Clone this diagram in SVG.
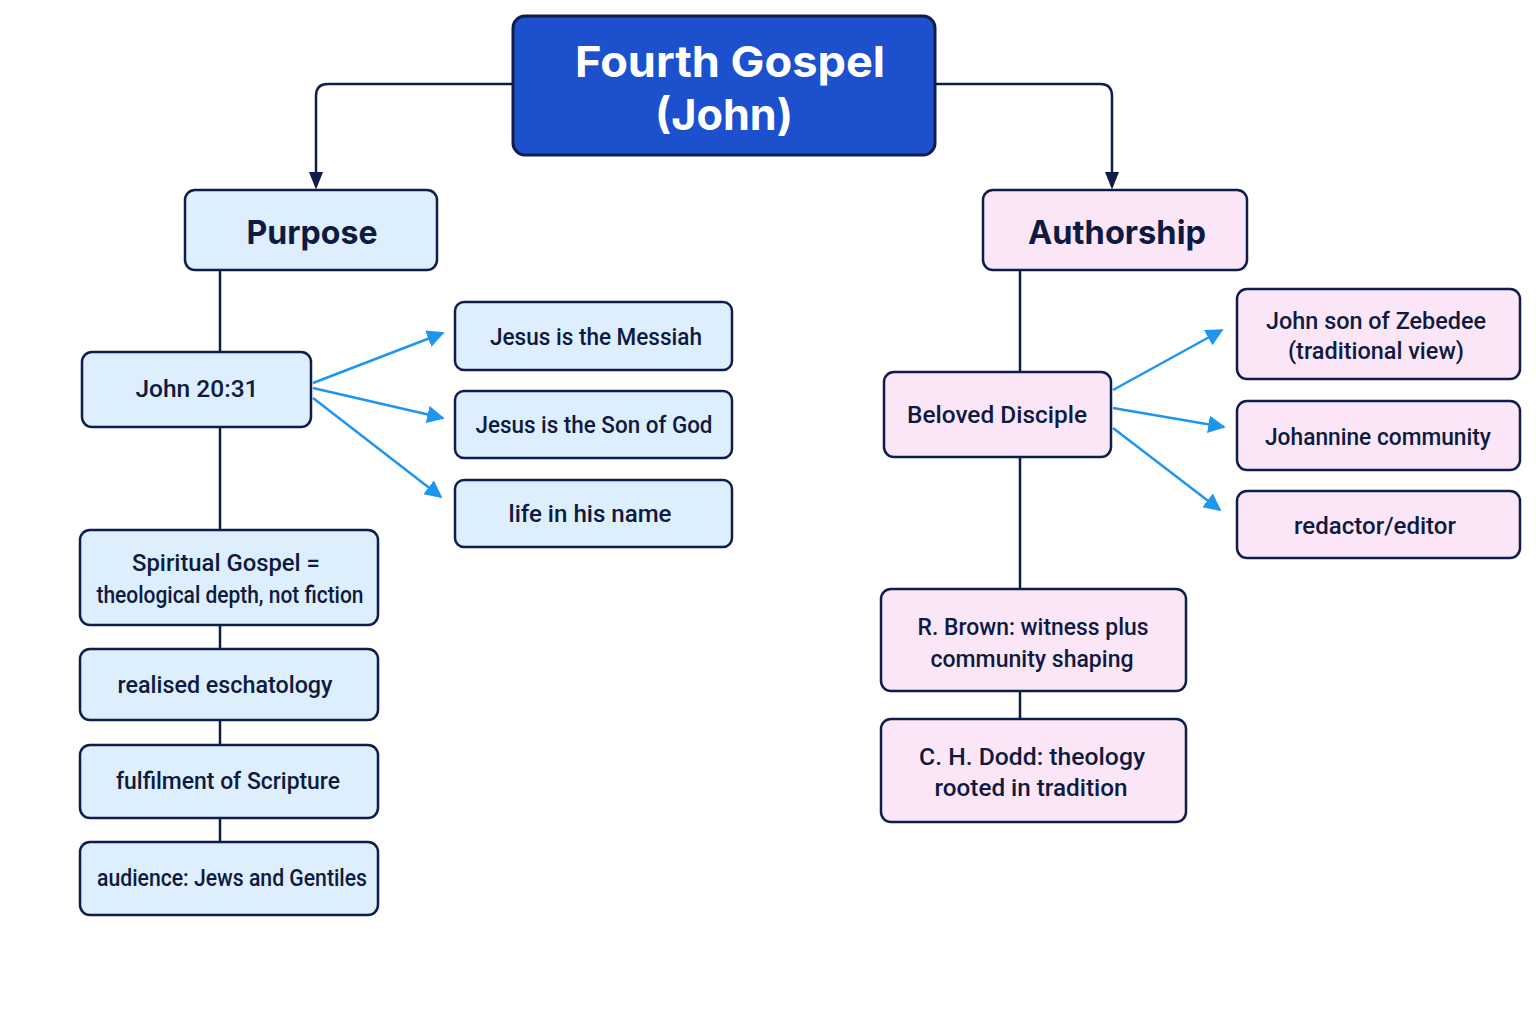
<svg xmlns="http://www.w3.org/2000/svg" width="1536" height="1024" viewBox="0 0 1536 1024">
<defs>
<style>
.box{stroke:#0f1d4a;stroke-width:2.5}
.blue{fill:#ddeefc}
.pink{fill:#fbe6f8}
.root{fill:#1d50cc;stroke:#0f1d4a;stroke-width:3}
.t{font-family:Roboto,"Noto Sans",sans-serif;font-size:24px;font-weight:500;fill:#0f1a40;text-anchor:middle}
.h{font-family:Inter,"Noto Sans",sans-serif;font-size:33px;font-weight:700;fill:#0f1a40;text-anchor:middle}
.rt{font-family:Inter,"Noto Sans",sans-serif;font-size:43px;font-weight:700;fill:#ffffff;text-anchor:middle}
.trunk{stroke:#0f1d4a;stroke-width:2.5;fill:none}
.arr{stroke:#1e96f0;stroke-width:2.5;fill:none}
</style>
<marker id="ad" viewBox="0 0 10 10" refX="8" refY="5" markerWidth="18" markerHeight="18" markerUnits="userSpaceOnUse" orient="auto"><path d="M0,1 L10,5 L0,9 z" fill="#0f1d4a"/></marker>
<marker id="ab" viewBox="0 0 10 10" refX="9" refY="5" markerWidth="7" markerHeight="7" orient="auto"><path d="M0,0 L10,5 L0,10 z" fill="#1e96f0"/></marker>
</defs>
<rect width="1536" height="1024" fill="#ffffff"/>
<g id="connectors">
<path class="trunk" d="M513,84 H328 Q316,84 316,96 V186" marker-end="url(#ad)"/>
<path class="trunk" d="M935,84 H1100 Q1112,84 1112,96 V186" marker-end="url(#ad)"/>
<path class="trunk" d="M220,270 V352 M220,427 V530 M220,625 V649 M220,720 V745 M220,818 V842"/>
<path class="trunk" d="M1020,270 V372 M1020,457 V589 M1020,691 V719"/>
<path class="arr" d="M313,383 L443,333" marker-end="url(#ab)"/>
<path class="arr" d="M313,388 L443,418" marker-end="url(#ab)"/>
<path class="arr" d="M313,398 L441,497" marker-end="url(#ab)"/>
<path class="arr" d="M1113,390 L1222,330" marker-end="url(#ab)"/>
<path class="arr" d="M1113,408 L1224,427" marker-end="url(#ab)"/>
<path class="arr" d="M1113,428 L1220,510" marker-end="url(#ab)"/>
</g>
<g id="root"><rect class="root" x="513" y="16" width="422" height="139" rx="12"/>
<text class="rt" x="730" y="77" textLength="310" lengthAdjust="spacingAndGlyphs">Fourth Gospel</text>
<text class="rt" x="724" y="130" textLength="138" lengthAdjust="spacingAndGlyphs">(John)</text></g>
<g id="purpose"><rect class="box blue" x="185" y="190" width="252" height="80" rx="10"/>
<text class="h" x="312" y="244" textLength="131" lengthAdjust="spacingAndGlyphs">Purpose</text></g>
<g id="authorship"><rect class="box pink" x="983" y="190" width="264" height="80" rx="10"/>
<text class="h" x="1117" y="244" textLength="178" lengthAdjust="spacingAndGlyphs">Authorship</text></g>
<g id="john2031"><rect class="box blue" x="82" y="352" width="229" height="75" rx="10"/>
<text class="t" x="197" y="397" textLength="123" lengthAdjust="spacingAndGlyphs">John 20:31</text></g>
<g id="messiah"><rect class="box blue" x="455" y="302" width="277" height="68" rx="9"/>
<text class="t" x="596" y="345" textLength="212" lengthAdjust="spacingAndGlyphs">Jesus is the Messiah</text></g>
<g id="songod"><rect class="box blue" x="455" y="391" width="277" height="67" rx="9"/>
<text class="t" x="594" y="433" textLength="237" lengthAdjust="spacingAndGlyphs">Jesus is the Son of God</text></g>
<g id="life"><rect class="box blue" x="455" y="480" width="277" height="67" rx="9"/>
<text class="t" x="590" y="522" textLength="163" lengthAdjust="spacingAndGlyphs">life in his name</text></g>
<g id="spiritual"><rect class="box blue" x="80" y="530" width="298" height="95" rx="10"/>
<text class="t" x="226" y="571" textLength="188" lengthAdjust="spacingAndGlyphs">Spiritual Gospel =</text>
<text class="t" x="230" y="603" textLength="267" lengthAdjust="spacingAndGlyphs">theological depth, not fiction</text></g>
<g id="realised"><rect class="box blue" x="80" y="649" width="298" height="71" rx="10"/>
<text class="t" x="225" y="693" textLength="215" lengthAdjust="spacingAndGlyphs">realised eschatology</text></g>
<g id="fulfilment"><rect class="box blue" x="80" y="745" width="298" height="73" rx="10"/>
<text class="t" x="228" y="789" textLength="224" lengthAdjust="spacingAndGlyphs">fulfilment of Scripture</text></g>
<g id="audience"><rect class="box blue" x="80" y="842" width="298" height="73" rx="10"/>
<text class="t" x="232" y="886" textLength="270" lengthAdjust="spacingAndGlyphs">audience: Jews and Gentiles</text></g>
<g id="beloved"><rect class="box pink" x="884" y="372" width="227" height="85" rx="10"/>
<text class="t" x="997" y="423" textLength="180" lengthAdjust="spacingAndGlyphs">Beloved Disciple</text></g>
<g id="zebedee"><rect class="box pink" x="1237" y="289" width="283" height="90" rx="10"/>
<text class="t" x="1376" y="329" textLength="220" lengthAdjust="spacingAndGlyphs">John son of Zebedee</text>
<text class="t" x="1376" y="359" textLength="176" lengthAdjust="spacingAndGlyphs">(traditional view)</text></g>
<g id="johannine"><rect class="box pink" x="1237" y="401" width="283" height="69" rx="10"/>
<text class="t" x="1378" y="445" textLength="226" lengthAdjust="spacingAndGlyphs">Johannine community</text></g>
<g id="redactor"><rect class="box pink" x="1237" y="491" width="283" height="67" rx="10"/>
<text class="t" x="1375" y="534" textLength="162" lengthAdjust="spacingAndGlyphs">redactor/editor</text></g>
<g id="brown"><rect class="box pink" x="881" y="589" width="305" height="102" rx="10"/>
<text class="t" x="1033" y="635" textLength="231" lengthAdjust="spacingAndGlyphs">R. Brown: witness plus</text>
<text class="t" x="1032" y="667" textLength="203" lengthAdjust="spacingAndGlyphs">community shaping</text></g>
<g id="dodd"><rect class="box pink" x="881" y="719" width="305" height="103" rx="10"/>
<text class="t" x="1032" y="765" textLength="226" lengthAdjust="spacingAndGlyphs">C. H. Dodd: theology</text>
<text class="t" x="1031" y="796" textLength="193" lengthAdjust="spacingAndGlyphs">rooted in tradition</text></g>
</svg>
